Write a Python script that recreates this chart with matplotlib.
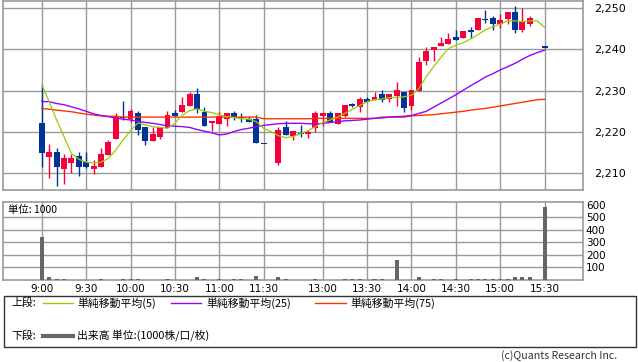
import numpy as np
import matplotlib
matplotlib.use("Agg")
import matplotlib.pyplot as plt
from matplotlib.lines import Line2D
from matplotlib.patches import Rectangle
from matplotlib.ticker import FuncFormatter

plt.rcParams['font.family'] = ['Noto Sans CJK JP', 'DejaVu Sans']

nan = np.nan

# 5-minute bars, index 0 = 9:00, 31 = lunch gap, 67 = no trade (15:25)
opens = [2222.2, 2214.0, 2215.2, 2211.1, 2212.6, 2214.2, 2212.7, 2211.1, 2211.6, 2214.5,
         2218.4, 2223.7, 2223.1, 2224.6, 2221.2, 2217.9, 2218.9, 2221.0, 2224.7, 2224.9,
         2226.4, 2229.2, 2224.9, 2222.1, 2222.0, 2223.1, 2224.6, 2223.5, 2223.2, 2223.1,
         2217.1, nan, 2212.4, 2221.2, 2219.0, 2219.8, 2219.4, 2221.0, 2223.9, 2224.5,
         2221.9, 2223.9, 2226.5, 2226.0, 2228.0, 2227.7, 2229.2, 2228.0, 2228.8, 2229.7,
         2226.3, 2230.0, 2237.2, 2239.9, 2240.9, 2241.3, 2243.0, 2242.8, 2244.8, 2244.8,
         2247.1, 2247.6, 2246.2, 2247.4, 2249.0, 2244.7, 2246.2, nan, 2240.5]
highs = [2231.4, 2217.1, 2216.1, 2214.7, 2214.7, 2215.2, 2215.2, 2213.2, 2216.1, 2218.1,
         2224.6, 2227.5, 2225.6, 2225.0, 2221.3, 2221.2, 2221.3, 2225.1, 2225.3, 2228.4,
         2229.7, 2230.6, 2226.0, 2222.7, 2224.9, 2224.6, 2225.1, 2224.6, 2223.8, 2224.0,
         2217.1, nan, 2221.2, 2222.7, 2220.2, 2221.7, 2220.5, 2225.1, 2224.5, 2225.1,
         2224.5, 2226.5, 2226.9, 2228.4, 2228.4, 2229.7, 2230.2, 2229.2, 2232.1, 2229.7,
         2230.2, 2238.1, 2240.6, 2240.6, 2243.0, 2244.0, 2244.8, 2244.4, 2245.5, 2247.7,
         2249.5, 2248.1, 2248.5, 2249.0, 2250.6, 2250.0, 2248.1, nan, 2240.5]
lows = [2211.6, 2208.9, 2207.0, 2207.5, 2210.0, 2209.4, 2211.4, 2209.9, 2211.5, 2214.4,
        2218.3, 2222.9, 2222.4, 2219.3, 2216.9, 2217.8, 2218.4, 2220.9, 2223.8, 2224.8,
        2226.3, 2224.5, 2221.4, 2220.2, 2221.9, 2221.5, 2222.8, 2222.5, 2222.4, 2217.3,
        2217.0, nan, 2212.1, 2219.2, 2218.0, 2218.7, 2218.5, 2220.1, 2221.5, 2222.5,
        2221.9, 2223.6, 2226.0, 2224.9, 2227.3, 2227.7, 2227.3, 2227.3, 2226.3, 2224.9,
        2225.3, 2230.0, 2236.2, 2237.2, 2240.9, 2241.3, 2242.3, 2242.8, 2242.8, 2244.8,
        2246.4, 2244.8, 2245.2, 2246.2, 2243.9, 2244.3, 2245.7, nan, 2240.4]
closes = [2215.0, 2215.2, 2211.6, 2213.7, 2213.7, 2211.6, 2211.6, 2211.8, 2214.7, 2217.6,
          2223.9, 2223.3, 2225.1, 2220.6, 2217.9, 2219.5, 2221.2, 2224.1, 2223.9, 2226.6,
          2229.2, 2225.6, 2221.5, 2222.7, 2223.9, 2224.6, 2223.5, 2223.3, 2222.5, 2217.4,
          2217.0, nan, 2220.6, 2219.3, 2220.2, 2219.5, 2220.1, 2224.5, 2224.5, 2222.5,
          2224.5, 2226.5, 2226.4, 2228.0, 2227.3, 2228.4, 2227.7, 2229.2, 2230.2, 2225.9,
          2230.2, 2236.9, 2239.6, 2240.6, 2241.6, 2242.5, 2242.3, 2244.4, 2244.3, 2247.7,
          2247.0, 2246.2, 2247.1, 2249.0, 2244.8, 2246.9, 2247.6, nan, 2240.4]

ma5 = [2231.4, 2227.3, 2222.9, 2218.9, 2214.8, 2213.4, 2212.7, 2212.5, 2212.7, 2213.6,
       2215.6, 2218.1, 2220.3, 2222.2, 2221.7, 2221.3, 2221.1, 2220.9, 2222.1, 2224.1,
       2225.2, 2225.6, 2225.0, 2224.7, 2224.2, 2223.7, 2223.5, 2223.2, 2223.1, 2222.5,
       2220.9, 2220.1, 2219.1, 2218.6, 2218.9, 2219.6, 2220.3, 2221.3, 2222.3, 2222.9,
       2223.6, 2224.5, 2225.5, 2226.4, 2227.3, 2227.8, 2228.0, 2228.3, 2228.4, 2228.5,
       2228.9, 2230.5, 2233.4, 2235.8, 2238.1, 2240.2, 2241.0, 2241.6, 2242.5, 2243.6,
       2244.7, 2245.5, 2246.1, 2246.9, 2246.9, 2246.7, 2246.9, 2246.9, 2245.3]
ma25 = [2227.4, 2227.3, 2226.9, 2226.6, 2226.1, 2225.6, 2225.0, 2224.4, 2224.0, 2223.7,
        2223.4, 2223.1, 2222.9, 2222.6, 2222.3, 2222.1, 2221.8, 2221.5, 2221.4, 2221.3,
        2221.1, 2220.6, 2220.2, 2219.8, 2219.3, 2219.5, 2220.1, 2220.6, 2220.9, 2221.3,
        2221.6, 2221.8, 2222.0, 2222.1, 2222.1, 2222.1, 2222.0, 2221.9, 2222.1, 2222.3,
        2222.5, 2222.7, 2222.8, 2222.9, 2223.1, 2223.3, 2223.4, 2223.6, 2223.7, 2223.8,
        2224.0, 2224.5, 2225.0, 2226.0, 2227.0, 2228.0, 2229.0, 2230.1, 2231.2, 2232.2,
        2233.3, 2234.1, 2235.0, 2235.8, 2236.6, 2237.6, 2238.5, 2239.2, 2239.8]
ma75 = [2225.7, 2225.5, 2225.3, 2225.1, 2224.9, 2224.6, 2224.3, 2224.1, 2223.9, 2223.8,
        2223.8, 2223.6, 2223.6, 2223.6, 2223.6, 2223.6, 2223.6, 2223.6, 2223.6, 2223.6,
        2223.6, 2223.6, 2223.6, 2223.6, 2223.6, 2223.6, 2223.6, 2223.6, 2223.6, 2223.6,
        2223.2, 2223.2, 2223.2, 2223.2, 2223.2, 2223.2, 2223.2, 2223.3, 2223.3, 2223.3,
        2223.3, 2223.3, 2223.3, 2223.3, 2223.3, 2223.3, 2223.6, 2223.6, 2223.6, 2223.6,
        2223.9, 2224.0, 2224.1, 2224.2, 2224.4, 2224.6, 2224.8, 2225.0, 2225.3, 2225.5,
        2225.7, 2226.0, 2226.3, 2226.6, 2226.9, 2227.2, 2227.5, 2227.8, 2227.9]

volumes = [347, 20, 10, 10, 0, 0, 0, 0, 10, 0,
           0, 10, 10, 10, 0, 0, 0, 10, 0, 0,
           0, 22, 10, 0, 10, 0, 10, 10, 0, 30,
           0, 0, 20, 10, 0, 0, 0, 10, 0, 0,
           0, 10, 10, 10, 0, 10, 10, 0, 157, 0,
           0, 20, 0, 10, 10, 0, 10, 0, 10, 10,
           10, 10, 10, 10, 20, 20, 20, 0, 584]

time_labels = ["9:00", "9:30", "10:00", "10:30", "11:00", "11:30",
               "13:00", "13:30", "14:00", "14:30", "15:00", "15:30"]
time_pos = [0, 6, 12, 18, 24, 30, 38, 44, 50, 56, 62, 68]

RED = '#f5003d'
BLUE = '#003399'
GRID = '#999999'

W, H = 638, 362
fig = plt.figure(figsize=(W / 100, H / 100), dpi=100)

x = np.arange(len(closes))
o = np.array(opens)
c = np.array(closes)
hi = np.array(highs)
lo = np.array(lows)
ok = ~np.isnan(c)
colors = np.where(c >= o, RED, BLUE)

# price panel
ax = fig.add_axes([3 / W, 1 - 190 / H, 580 / W, 189.3 / H])
ax.vlines(x[ok], lo[ok], hi[ok], colors=colors[ok], lw=1.0, zorder=3)
body_h = np.maximum(np.abs(c - o), 0.3)
ax.bar(x[ok], body_h[ok], bottom=np.minimum(o, c)[ok], width=0.8,
       color=colors[ok], linewidth=0, zorder=3)
ax.plot(x, ma75, color='#ff3300', lw=1.0, zorder=4)
ax.plot(x, ma25, color='#9900ff', lw=1.0, zorder=4)
ax.plot(x, ma5, color='#99cc00', lw=0.9, zorder=5)

ax.set_xlim(-5.25, 73.2)
ax.set_ylim(2205.96, 2251.77)
ax.set_xticks(time_pos)
ax.set_yticks([2210, 2220, 2230, 2240, 2250])
ax.yaxis.tick_right()
ax.yaxis.set_major_formatter(FuncFormatter(lambda v, p: f"{v:,.0f}"))
ax.tick_params(axis='x', length=0, labelbottom=False)
ax.tick_params(axis='y', length=0, pad=8, labelsize=8)
for t in ax.get_yticklabels():
    t.set_fontfamily('DejaVu Sans')
ax.grid(color=GRID, lw=1.0, zorder=0)
ax.set_axisbelow(True)
for s in ax.spines.values():
    s.set_color(GRID)
    s.set_linewidth(1.2)

# volume panel
axv = fig.add_axes([3 / W, 1 - 280 / H, 580 / W, 78.3 / H])
axv.bar(x, volumes, width=0.55, color='#666666', linewidth=0, zorder=3)
axv.set_xlim(-5.25, 73.2)
axv.set_ylim(0, 626)
axv.set_xticks(time_pos)
axv.set_xticklabels(time_labels)
axv.set_yticks([100, 200, 300, 400, 500, 600])
axv.yaxis.tick_right()
axv.tick_params(axis='x', length=0, pad=3, labelsize=7.5)
axv.tick_params(axis='y', length=0, pad=2, labelsize=7.5)
for t in axv.get_xticklabels() + axv.get_yticklabels():
    t.set_fontfamily('DejaVu Sans')
axv.grid(axis='x', color=GRID, lw=1.0, zorder=0)
for v in [100, 200, 300, 400, 500]:
    axv.axhline(v, color=GRID, lw=1.0, zorder=0)
for s in axv.spines.values():
    s.set_color(GRID)
    s.set_linewidth(1.2)
axv.text(0.008, 0.9, "単位: 1000", transform=axv.transAxes, fontsize=7.5,
         va='center', ha='left', zorder=5)

# legend box
fig.add_artist(Rectangle((4 / W, 1 - 347 / H), 632 / W, 51 / H, transform=fig.transFigure,
                         fill=False, edgecolor='#333333', lw=1.0))
row1 = 1 - 303 / H
row2 = 1 - 336 / H
fig.text(11 / W, row1, "上段:", fontsize=7.8, va='center')
legend_items = [(43, 73, 77, '#99cc00', "単純移動平均(5)"),
                (171, 201, 206, '#9900ff', "単純移動平均(25)"),
                (315, 346, 350, '#ff3300', "単純移動平均(75)")]
for x0, x1, xt, col, lab in legend_items:
    fig.add_artist(Line2D([x0 / W, x1 / W], [row1, row1], color=col, lw=1.0,
                          transform=fig.transFigure))
    fig.text(xt / W, row1, lab, fontsize=7.8, va='center')
fig.text(11 / W, row2, "下段:", fontsize=7.8, va='center')
fig.add_artist(Line2D([43 / W, 73 / W], [row2, row2], color='#666666', lw=3.0,
                      transform=fig.transFigure))
fig.text(77 / W, row2, "出来高 単位:(1000株/口/枚)", fontsize=7.8, va='center')

fig.text(617 / W, 1 - 356 / H, "(c)Quants Research Inc.", fontsize=7.6, va='center',
         ha='right', color='#333333')

fig.savefig("out.png", dpi=100)
